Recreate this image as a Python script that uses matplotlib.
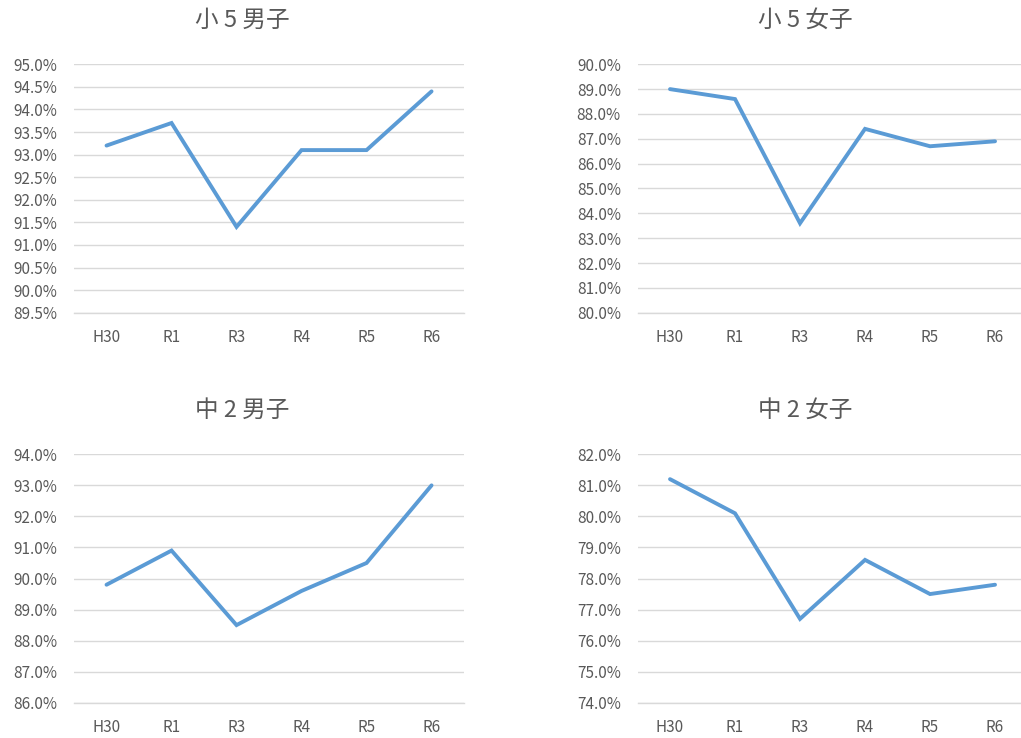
import matplotlib
matplotlib.use('Agg')
import matplotlib.pyplot as plt
import numpy as np
from matplotlib.ticker import PercentFormatter, MultipleLocator

plt.rcParams['font.family'] = ['Noto Sans CJK JP', 'DejaVu Sans']

# data (percent)
years = ['H30', 'R1', 'R3', 'R4', 'R5', 'R6']
titles = ['小 5 男子', '小 5 女子', '中 2 男子', '中 2 女子']
e5_boys = [93.2, 93.7, 91.4, 93.1, 93.1, 94.4]
e5_girls = [89.0, 88.6, 83.6, 87.4, 86.7, 86.9]
j2_boys = [89.8, 90.9, 88.5, 89.6, 90.5, 93.0]
j2_girls = [81.2, 80.1, 76.7, 78.6, 77.5, 77.8]
series = [e5_boys, e5_girls, j2_boys, j2_girls]
y_ranges = [(89.5, 95.0, 0.5), (80.0, 90.0, 1.0), (86.0, 94.0, 1.0), (74.0, 82.0, 1.0)]

line_color = '#5B9BD5'
text_color = '#595959'
grid_color = '#D9D9D9'

fig = plt.figure(figsize=(10.21, 7.38), dpi=100)

# axes boxes in figure fractions [left, bottom, width, height]
boxes = [
    [0.0725, 0.5763, 0.3820, 0.3366],
    [0.6244, 0.5763, 0.3820, 0.3366],
    [0.0725, 0.0478, 0.3820, 0.3366],
    [0.6244, 0.0478, 0.3820, 0.3366],
]
# title centres (chart-area centred, like Excel)
title_pos = [(0.237, 0.973), (0.789, 0.973), (0.237, 0.444), (0.789, 0.444)]

x = np.arange(len(years))
for box, title, tpos, vals, (lo, hi, step) in zip(boxes, titles, title_pos, series, y_ranges):
    ax = fig.add_axes(box)
    ax.plot(x, vals, color=line_color, lw=2.8, solid_capstyle='round', solid_joinstyle='miter', zorder=3)
    ax.set_xlim(-0.5, len(years) - 0.5)
    ax.set_ylim(lo, hi)
    ax.yaxis.set_major_locator(MultipleLocator(step))
    ax.yaxis.set_major_formatter(PercentFormatter(xmax=100, decimals=1))
    ax.set_xticks(x)
    ax.set_xticklabels(years)
    ax.grid(axis='y', color=grid_color, lw=1.0, zorder=0)
    ax.set_axisbelow(True)
    for s in ['top', 'right', 'left']:
        ax.spines[s].set_visible(False)
    ax.spines['bottom'].set_color(grid_color)
    ax.spines['bottom'].set_linewidth(1.0)
    ax.tick_params(axis='both', length=0, labelsize=11, colors=text_color)
    ax.tick_params(axis='y', pad=12)
    ax.tick_params(axis='x', pad=12)
    fig.text(tpos[0], tpos[1], title, fontsize=17, color=text_color, ha='center', va='center')

fig.savefig('out.png', dpi=100)
